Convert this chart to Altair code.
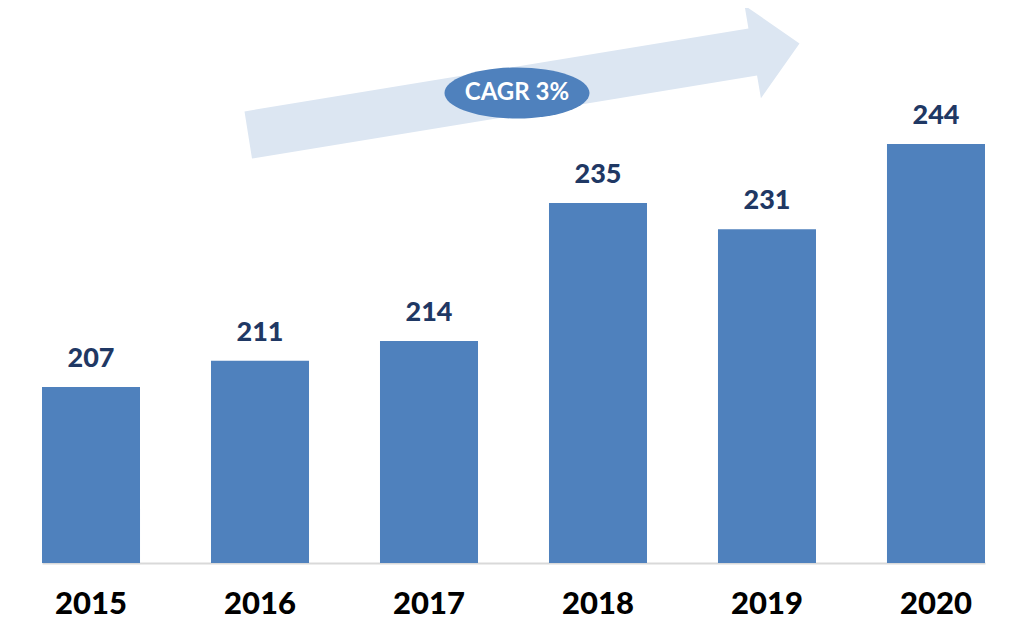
import altair as alt
import pandas as pd

years = ["2015", "2016", "2017", "2018", "2019", "2020"]
values = [207, 211, 214, 235, 231, 244]
cagr_label = ["CAGR 3%"]

df = pd.DataFrame({"year": years, "value": values})

BAR = "#4F81BD"
FONT = "Lato"

x_enc = alt.X("year:N", sort=years,
              scale=alt.Scale(range=[34, 977], paddingInner=0.42, paddingOuter=0),
              axis=alt.Axis(title=None, labelAngle=0, labelFont=FONT, labelFontSize=31,
                            labelFontWeight=900, labelColor="#000000", labelPadding=50,
                            labelBaseline="alphabetic",
                            ticks=False, domainColor="#D9D9D9", domainWidth=2))
y_scale = alt.Scale(domain=[180.2, 264.7], zero=False, nice=False)

bars = alt.Chart(df).mark_bar(color=BAR).encode(
    x=x_enc,
    y=alt.Y("value:Q", scale=y_scale, axis=None),
    y2=alt.datum(180.2),
)

labels = alt.Chart(df).mark_text(font=FONT, fontSize=27, fontWeight=900,
                                 color="#1F3864", baseline="alphabetic", dy=-20).encode(
    x=alt.X("year:N", sort=years),
    y=alt.Y("value:Q", scale=y_scale, axis=None),
    text=alt.Text("value:Q"),
)

arrow_path = ("M -1,0.106 L 0.816,-0.193 L 0.802,-0.276 L 1,-0.139 "
              "L 0.861,0.059 L 0.847,-0.023 L -0.973,0.276 Z")
arrow = alt.Chart(pd.DataFrame({"a": [0]})).mark_point(
    shape=arrow_path, filled=True, fill="#DCE6F2", strokeWidth=0, opacity=1, size=555 ** 2
).encode(x=alt.value(514), y=alt.value(74))

ellipse_path = "M -1,0 A 1,0.352 0 1,0 1,0 A 1,0.352 0 1,0 -1,0 Z"
ellipse = alt.Chart(pd.DataFrame({"t": cagr_label})).mark_point(
    shape=ellipse_path, filled=True, fill=BAR, strokeWidth=0, opacity=1, size=145 ** 2
).encode(x=alt.value(509), y=alt.value(85))

cagr = alt.Chart(pd.DataFrame({"t": cagr_label})).mark_text(
    font=FONT, fontSize=24, fontWeight="bold", color="white", baseline="middle", align="center"
).encode(x=alt.value(509), y=alt.value(85), text="t:N")

chart = alt.layer(arrow, bars, labels, ellipse, cagr).properties(
    width=996, height=555, background="white",
    autosize=alt.AutoSizeParams(type="none"),
    padding={"left": 0, "top": 0, "right": 0, "bottom": 57},
).configure_view(stroke=None)

chart.save("out.html", embed_options={"renderer": "svg", "actions": False})
